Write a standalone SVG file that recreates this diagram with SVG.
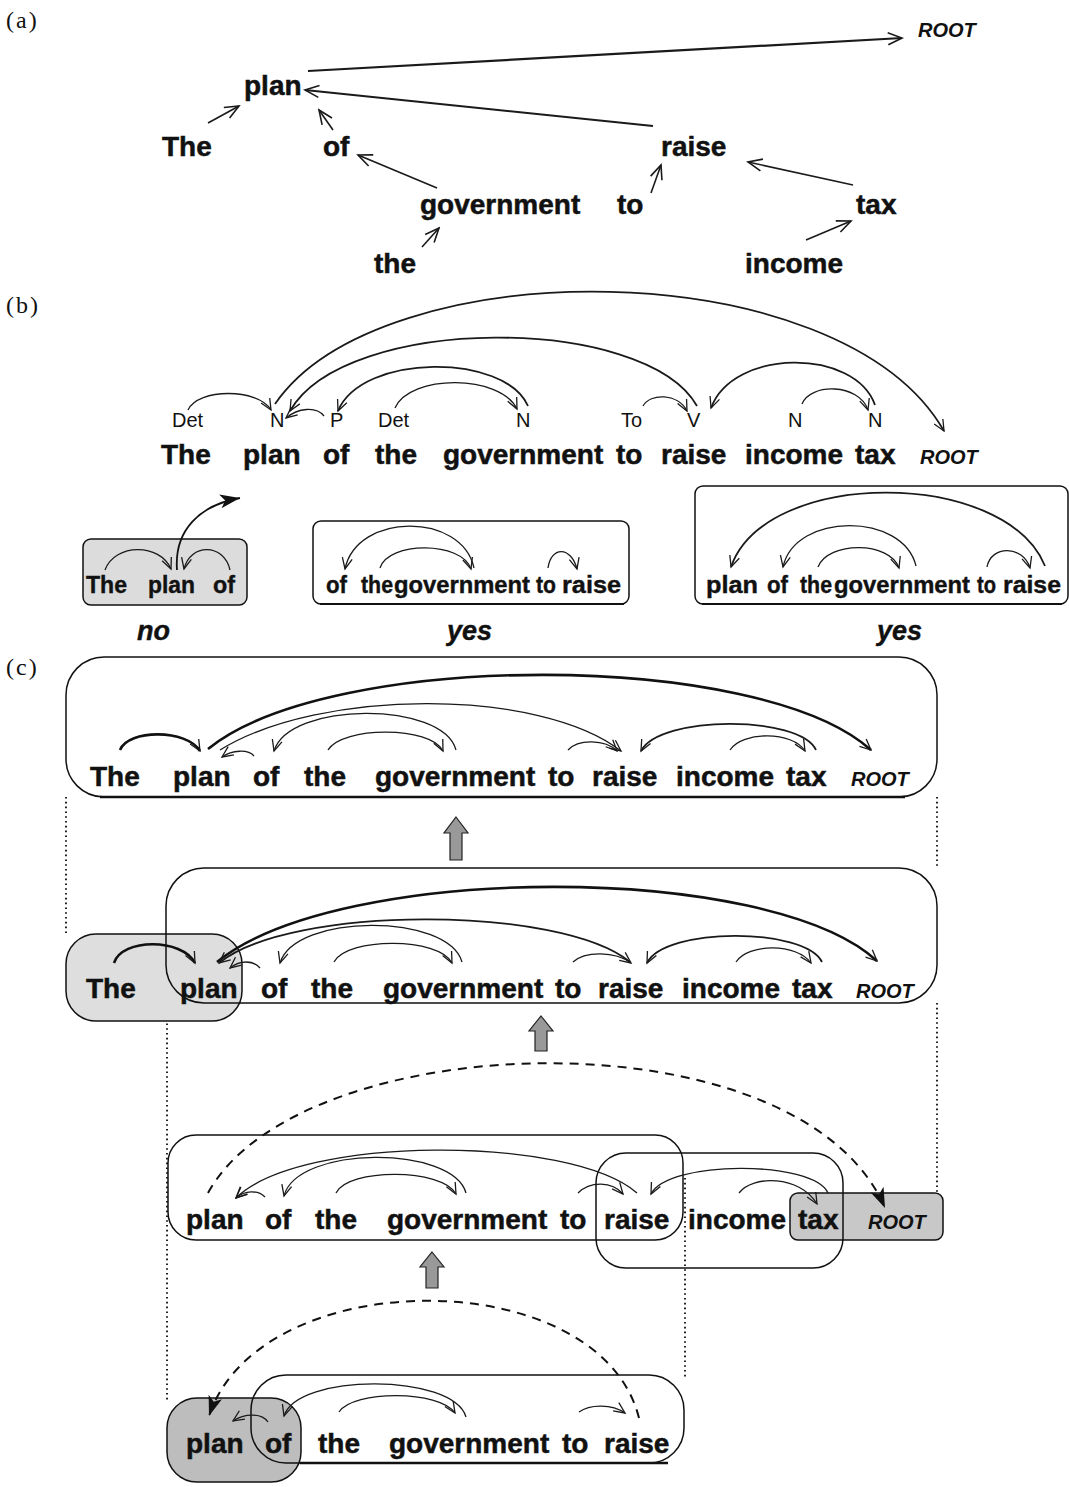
<svg xmlns="http://www.w3.org/2000/svg" width="1069" height="1487" viewBox="0 0 1069 1487">
<style>
.w{font-family:"Liberation Sans",Arial,sans-serif;font-weight:700;font-size:28px;fill:#111;stroke:#111;stroke-width:0.5}
.bw{font-family:"Liberation Sans",Arial,sans-serif;font-weight:700;font-size:24px;fill:#111;stroke:#111;stroke-width:0.4}
.r{font-family:"Liberation Sans",Arial,sans-serif;font-weight:700;font-style:italic;font-size:20px;fill:#111}
.pos{font-family:"Liberation Sans",Arial,sans-serif;font-size:20px;fill:#111}
.lab{font-family:"Liberation Serif","Times New Roman",serif;font-size:24px;letter-spacing:2px;fill:#111}
.yn{font-family:"Liberation Sans",Arial,sans-serif;font-weight:700;font-style:italic;font-size:27px;fill:#111;stroke:#111;stroke-width:0.4}
.a{fill:none;stroke:#1a1a1a;stroke-width:1.3;marker-end:url(#mo)}
.am{fill:none;stroke:#1a1a1a;stroke-width:1.8;marker-end:url(#mo)}
.ak{fill:none;stroke:#111;stroke-width:2.6;marker-end:url(#mo)}
.la{fill:none;stroke:#1a1a1a;stroke-width:1.6;marker-end:url(#mob)}
.dash{fill:none;stroke:#111;stroke-width:2;stroke-dasharray:9 7;marker-end:url(#mf)}
.box{fill:none;stroke:#111;stroke-width:1.5}
.gbox{stroke:#111;stroke-width:1.5}
.dot{stroke:#222;stroke-width:2;stroke-dasharray:1.6 3.2;fill:none}
.blk{fill:#999;stroke:#222;stroke-width:1.2}
</style>
<defs>
<marker id="mo" markerUnits="userSpaceOnUse" markerWidth="16" markerHeight="16" viewBox="0 0 16 16" refX="14" refY="8" orient="auto"><path d="M3,3 L14,8 L3,13" fill="none" stroke="#1a1a1a" stroke-width="1.3"/></marker>
<marker id="mob" markerUnits="userSpaceOnUse" markerWidth="20" markerHeight="20" viewBox="0 0 20 20" refX="18" refY="10" orient="auto"><path d="M4,4 L18,10 L4,16" fill="none" stroke="#1a1a1a" stroke-width="1.6"/></marker>
<marker id="mf" markerUnits="userSpaceOnUse" markerWidth="22" markerHeight="22" viewBox="0 0 22 22" refX="20" refY="11" orient="auto"><path d="M0,4 L20,11 L0,18 L5,11 Z" fill="#111"/></marker>
</defs>
<rect width="1069" height="1487" fill="#fff"/>

<!-- labels -->
<text class="lab" x="6" y="28">(a)</text>
<text class="lab" x="6" y="313">(b)</text>
<text class="lab" x="6" y="675">(c)</text>

<!-- ===== (a) ===== -->
<g id="a-nodes">
<g id="a-root"><text class="r" x="918" y="37">ROOT</text></g>
<g id="a-plan"><text class="w" x="244" y="95">plan</text></g>
<g id="a-The"><text class="w" x="162" y="156">The</text></g>
<g id="a-of"><text class="w" x="323" y="156">of</text></g>
<g id="a-raise"><text class="w" x="661" y="156">raise</text></g>
<g id="a-government"><text class="w" x="420" y="214">government</text></g>
<g id="a-to"><text class="w" x="617" y="214">to</text></g>
<g id="a-tax"><text class="w" x="856" y="214">tax</text></g>
<g id="a-the"><text class="w" x="374" y="273">the</text></g>
<g id="a-income"><text class="w" x="745" y="273">income</text></g>
</g>
<g id="a-connectors">
<path class="la" d="M308,71 L902,38" style="stroke-width:2.2"/>
<path class="la" d="M653,126 L305,90" style="stroke-width:2"/>
<path class="la" d="M208,123 L239,106"/>
<path class="la" d="M333,130 L319,110"/>
<path class="la" d="M437,188 L358,155"/>
<path class="la" d="M422,247 L439,228"/>
<path class="la" d="M651,193 L661,165"/>
<path class="la" d="M853,185 L748,162"/>
<path class="la" d="M806,240 L851,221"/>
</g>

<!-- ===== (b) ===== -->
<g id="b-sentence">
<text class="pos" x="172" y="427">Det</text>
<text class="pos" x="270" y="427">N</text>
<text class="pos" x="330" y="427">P</text>
<text class="pos" x="378" y="427">Det</text>
<text class="pos" x="516" y="427">N</text>
<text class="pos" x="621" y="427">To</text>
<text class="pos" x="687" y="427">V</text>
<text class="pos" x="788" y="427">N</text>
<text class="pos" x="868" y="427">N</text>
<text class="w" x="161" y="464">The</text>
<text class="w" x="243" y="464">plan</text>
<text class="w" x="323" y="464">of</text>
<text class="w" x="375" y="464">the</text>
<text class="w" x="443" y="464">government</text>
<text class="w" x="616" y="464">to</text>
<text class="w" x="661" y="464">raise</text>
<text class="w" x="745" y="464">income</text>
<text class="w" x="855" y="464">tax</text>
<text class="r" x="920" y="464">ROOT</text>
</g>
<g id="b-connectors">
<path class="a" d="M188,410 C198,388 258,388 271,410"/>
<path class="a" d="M324,416 C316,406 298,408 286,418"/>
<path class="a" d="M395,408 C410,374 500,374 517,409"/>
<path class="am" d="M528,406 C505,353 362,353 338,411"/>
<path class="am" d="M697,406 C645,314 345,314 290,411"/>
<path class="a" d="M643,406 C650,393 678,393 687,411"/>
<path class="am" d="M875,405 C855,348 733,348 711,408"/>
<path class="a" d="M802,404 C810,383 859,383 868,410"/>
<path class="am" d="M275,404 C380,250 840,250 944,431"/>
</g>

<g id="b-box-no">
<rect class="gbox" x="83" y="539" width="164" height="66" rx="8" fill="#dcdcdc"/>
<text class="bw" x="86" y="593" textLength="41" lengthAdjust="spacingAndGlyphs">The</text>
<text class="bw" x="148" y="593" textLength="47" lengthAdjust="spacingAndGlyphs">plan</text>
<text class="bw" x="213" y="593" textLength="22" lengthAdjust="spacingAndGlyphs">of</text>
<path class="a" d="M105,570 C115,543 160,543 171,569"/>
<path class="a" d="M230,570 C224,543 190,543 184,569"/>
<path d="M177,570 C174,530 200,505 240,498" fill="none" stroke="#111" stroke-width="1.8" marker-end="url(#mf)"/>
</g>
<g id="b-box-yes1">
<rect class="box" x="313" y="521" width="316" height="83" rx="8"/>
<line x1="320" y1="604" x2="624" y2="604" stroke="#111" stroke-width="2.2"/>
<text class="bw" x="326" y="593" textLength="21" lengthAdjust="spacingAndGlyphs">of</text>
<text class="bw" x="361" y="593" textLength="32" lengthAdjust="spacingAndGlyphs">the</text>
<text class="bw" x="394" y="593" textLength="136" lengthAdjust="spacingAndGlyphs">government</text>
<text class="bw" x="536" y="593" textLength="20" lengthAdjust="spacingAndGlyphs">to</text>
<text class="bw" x="562" y="593" textLength="59" lengthAdjust="spacingAndGlyphs">raise</text>
<path class="a" d="M474,568 C462,512 357,512 345,569"/>
<path class="a" d="M380,568 C388,541 462,541 471,569"/>
<path class="a" d="M548,568 C551,546 571,546 577,569"/>
</g>
<g id="b-box-yes2">
<rect class="box" x="695" y="486" width="373" height="118" rx="8"/>
<line x1="702" y1="604" x2="1062" y2="604" stroke="#111" stroke-width="2.2"/>
<text class="bw" x="706" y="593" textLength="52" lengthAdjust="spacingAndGlyphs">plan</text>
<text class="bw" x="767" y="593" textLength="21" lengthAdjust="spacingAndGlyphs">of</text>
<text class="bw" x="800" y="593" textLength="32" lengthAdjust="spacingAndGlyphs">the</text>
<text class="bw" x="834" y="593" textLength="136" lengthAdjust="spacingAndGlyphs">government</text>
<text class="bw" x="977" y="593" textLength="19" lengthAdjust="spacingAndGlyphs">to</text>
<text class="bw" x="1003" y="593" textLength="58" lengthAdjust="spacingAndGlyphs">raise</text>
<path class="am" d="M1045,566 C1005,468 765,468 731,567"/>
<path class="a" d="M916,566 C903,512 795,512 783,567"/>
<path class="a" d="M818,567 C828,541 890,541 899,568"/>
<path class="a" d="M987,567 C991,545 1023,545 1030,568"/>
</g>
<text class="yn" x="137" y="640">no</text>
<text class="yn" x="447" y="640">yes</text>
<text class="yn" x="877" y="640">yes</text>

<!-- ===== (c) ===== -->
<g id="c-guides">
<line class="dot" x1="66" y1="797" x2="66" y2="934"/>
<line class="dot" x1="937" y1="797" x2="937" y2="868"/>
<line class="dot" x1="937" y1="1003" x2="937" y2="1193"/>
<line class="dot" x1="167" y1="985" x2="167" y2="1400"/>
<line class="dot" x1="685" y1="1178" x2="685" y2="1378"/>
</g>

<!-- row 1 -->
<g id="c-row1">
<rect class="box" x="66" y="657" width="871" height="140" rx="38"/>
<line x1="100" y1="797" x2="905" y2="797" stroke="#111" stroke-width="2.6"/>
<text class="w" x="90" y="786">The</text>
<text class="w" x="173" y="786">plan</text>
<text class="w" x="253" y="786">of</text>
<text class="w" x="304" y="786">the</text>
<text class="w" x="375" y="786">government</text>
<text class="w" x="548" y="786">to</text>
<text class="w" x="592" y="786">raise</text>
<text class="w" x="676" y="786">income</text>
<text class="w" x="786" y="786">tax</text>
<text class="r" x="851" y="786">ROOT</text>
</g>
<g id="c-row1-connectors">
<path class="ak" d="M120,750 C128,729 187,729 200,751"/>
<path class="ak" d="M208,749 C330,650 760,650 871,750"/>
<path class="a" d="M220,750 C320,688 540,688 621,751"/>
<path class="a" d="M254,756 C248,749 232,750 222,757"/>
<path class="a" d="M456,750 C443,701 289,701 274,751"/>
<path class="a" d="M328,750 C342,726 431,726 443,751"/>
<path class="a" d="M568,750 C578,739 605,739 617,751"/>
<path class="am" d="M816,750 C800,715 660,715 641,751"/>
<path class="a" d="M730,750 C742,731 793,731 805,751"/>
</g>
<path id="c-up1" class="blk" d="M456,817 L468,833 L462,833 L462,860 L450,860 L450,833 L444,833 Z"/>

<!-- row 2 -->
<g id="c-row2-the">
<rect class="gbox" x="66" y="934" width="176" height="87" rx="30" fill="#dedede"/>
<text class="w" x="86" y="998">The</text>
</g>
<g id="c-row2-rest">
<rect class="box" x="166" y="868" width="771" height="135" rx="38"/>
<text class="w" x="180" y="998">plan</text>
<text class="w" x="261" y="998">of</text>
<text class="w" x="311" y="998">the</text>
<text class="w" x="383" y="998">government</text>
<text class="w" x="555" y="998">to</text>
<text class="w" x="598" y="998">raise</text>
<text class="w" x="682" y="998">income</text>
<text class="w" x="792" y="998">tax</text>
<text class="r" x="856" y="998">ROOT</text>
</g>
<g id="c-row2-connectors">
<path class="ak" d="M114,963 C122,938 182,938 195,963"/>
<path class="ak" d="M217,962 C340,862 770,862 877,961"/>
<path class="am" d="M630,962 C560,905 290,905 219,963"/>
<path class="a" d="M260,968 C253,960 240,960 230,968"/>
<path class="a" d="M462,962 C448,913 295,913 280,963"/>
<path class="a" d="M334,962 C347,937 439,937 452,963"/>
<path class="a" d="M573,962 C585,951 615,951 631,963"/>
<path class="am" d="M822,962 C805,927 665,927 647,963"/>
<path class="a" d="M736,962 C748,943 797,943 811,963"/>
</g>
<path id="c-up2" class="blk" d="M541,1016 L553,1031 L547,1031 L547,1051 L535,1051 L535,1031 L529,1031 Z"/>

<!-- row 3 -->
<g id="c-row3-taxroot">
<rect class="gbox" x="790" y="1193" width="153" height="47" rx="8" fill="#c8c8c8"/>
<text class="w" x="798" y="1229">tax</text>
<text class="r" x="868" y="1229">ROOT</text>
</g>
<g id="c-row3-left">
<rect class="box" x="168" y="1135" width="515" height="105" rx="28"/>
<text class="w" x="186" y="1229">plan</text>
<text class="w" x="265" y="1229">of</text>
<text class="w" x="315" y="1229">the</text>
<text class="w" x="387" y="1229">government</text>
<text class="w" x="560" y="1229">to</text>
<text class="w" x="604" y="1229">raise</text>
</g>
<g id="c-row3-mid">
<rect class="box" x="596" y="1153" width="247" height="115" rx="30"/>
<text class="w" x="688" y="1229">income</text>
</g>
<g id="c-row3-connectors">
<path class="dash" d="M208,1193 C300,1025 800,1010 885,1208"/>
<path class="a" d="M637,1193 C570,1135 300,1135 236,1198"/>
<path class="a" d="M265,1197 C258,1190 245,1190 236,1198"/>
<path class="a" d="M466,1193 C453,1145 297,1145 284,1196"/>
<path class="a" d="M336,1193 C348,1168 442,1168 456,1194"/>
<path class="a" d="M578,1193 C590,1181 612,1181 623,1194"/>
<path class="a" d="M828,1193 C813,1160 668,1160 651,1194"/>
<path class="a" d="M739,1193 C752,1175 800,1175 817,1204"/>
</g>
<path id="c-up3" class="blk" d="M432,1252 L444,1267 L438,1267 L438,1288 L426,1288 L426,1267 L420,1267 Z"/>

<!-- row 4 -->
<g id="c-row4-planof">
<rect class="gbox" x="167" y="1398" width="134" height="84" rx="30" fill="#bdbdbd"/>
<text class="w" x="186" y="1453">plan</text>
<text class="w" x="265" y="1453">of</text>
</g>
<g id="c-row4-rest">
<rect class="box" x="251" y="1375" width="433" height="88" rx="35"/>
<line x1="300" y1="1463" x2="668" y2="1463" stroke="#111" stroke-width="2.4"/>
<text class="w" x="318" y="1453">the</text>
<text class="w" x="389" y="1453">government</text>
<text class="w" x="562" y="1453">to</text>
<text class="w" x="604" y="1453">raise</text>
</g>
<g id="c-row4-connectors">
<path class="dash" d="M639,1418 C600,1262 260,1262 209,1416"/>
<path class="a" d="M466,1417 C453,1373 297,1373 284,1416"/>
<path class="a" d="M268,1422 C262,1413 245,1413 233,1421"/>
<path class="a" d="M339,1412 C353,1390 440,1390 455,1413"/>
<path class="a" d="M579,1412 C590,1404 612,1404 625,1413"/>
</g>
</svg>
